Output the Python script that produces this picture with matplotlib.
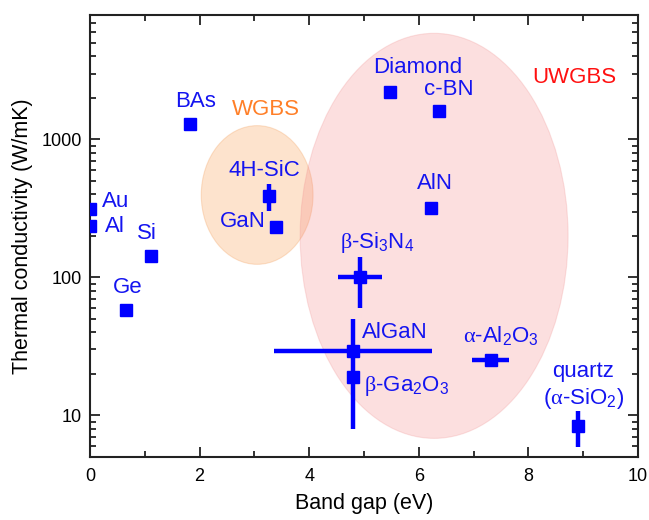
import matplotlib
matplotlib.use("Agg")
import matplotlib.pyplot as plt
from matplotlib.patches import Ellipse

plt.rcParams['font.family'] = ['Liberation Sans', 'DejaVu Sans']
plt.rcParams['mathtext.fontset'] = 'custom'
plt.rcParams['mathtext.rm'] = 'Liberation Sans'
plt.rcParams['mathtext.tt'] = 'Liberation Serif'

# ---- data ----
materials = ['Au', 'Al', 'Si', 'Ge', 'BAs', '4H-SiC', 'GaN', 'Diamond', 'c-BN', 'AlN',
             'b-Si3N4', 'AlGaN', 'b-Ga2O3', 'a-Al2O3', 'quartz']
band_gap = [0.0, 0.0, 1.12, 0.66, 1.82, 3.26, 3.39, 5.47, 6.36, 6.23,
            4.93, 4.80, 4.80, 7.31, 8.90]
kappa = [315, 237, 142, 58, 1300, 390, 230, 2200, 1600, 320,
         100, 29, 19, 25, 8.3]
gap_err = [0, 0, 0, 0, 0, 0, 0, 0, 0, 0,
           0.40, 1.44, 0, 0.33, 0]
kappa_err = [0, 0, 0, 0, 0, 85, 0, 0, 0, 0,
             40, 21, 0, 0, 2.4]

label_texts = ['Au', 'Al', 'Si', 'Ge', 'BAs', '4H-SiC', 'GaN', 'Diamond', 'c-BN', 'AlN',
               r'$\mathtt{β}$-Si$_3$N$_4$', 'AlGaN', r'$\mathtt{β}$-Ga$_2$O$_3$',
               r'$\mathtt{α}$-Al$_2$O$_3$', 'quartz\n' + r'($\mathtt{α}$-SiO$_2$)']
# label positions (data coordinates)
label_x = [0.46, 0.46, 1.04, 0.68, 1.93, 3.19, 2.79, 5.98, 6.55, 6.30,
           5.24, 5.57, 5.77, 7.50, 9.0]
label_y = [355, 234, 208, 84, 1900, 600, 255, 3300, 2320, 480,
           178, 40, 16.2, 37.5, 16.3]

region_names = ['WGBS', 'UWGBS']
region_colors = ['#ff7f27', '#ff1010']

# ---- figure ----
fig = plt.figure(figsize=(6.49, 5.2), dpi=100)
ax = fig.add_axes([0.1387, 0.1217, 0.9830 - 0.1387, 0.9712 - 0.1217])
ax.set_yscale('log')
ax.set_xlim(0, 10)
ax.set_ylim(5, 8000)

# shaded regions (axes coordinates)
ax.add_patch(Ellipse((0.305, 0.5925), 0.204, 0.314, transform=ax.transAxes,
                     facecolor='#f9a55a', alpha=0.3, edgecolor='#f3a060', lw=0.8, zorder=1))
ax.add_patch(Ellipse((0.628, 0.500), 0.489, 0.917, transform=ax.transAxes,
                     facecolor='#f48080', alpha=0.25, edgecolor='#f09090', lw=0.8, zorder=1))

blue = '#0000ff'
for x, y, xe, ye in zip(band_gap, kappa, gap_err, kappa_err):
    ax.errorbar(x, y, xerr=xe if xe else None, yerr=ye if ye else None,
                fmt='s', color=blue, ms=9, elinewidth=3.2, capsize=0,
                zorder=3, clip_on=True)

for t, x, y in zip(label_texts, label_x, label_y):
    ax.text(x, y, t, color='#1414f0', fontsize=16, ha='center', va='center',
            zorder=4, linespacing=1.25)

ax.text(3.21, 1640, region_names[0], color=region_colors[0], fontsize=16,
        ha='center', va='center')
ax.text(8.83, 2800, region_names[1], color=region_colors[1], fontsize=16,
        ha='center', va='center')

ax.set_xticks([0, 2, 4, 6, 8, 10])
ax.set_xticks([1, 3, 5, 7, 9], minor=True)
ax.set_yticks([10, 100, 1000])
ax.set_yticklabels(['10', '100', '1000'])
ax.tick_params(which='both', direction='in', top=True, right=True,
               labelsize=13, color='#222222', width=1.3)
ax.tick_params(which='major', length=7)
ax.tick_params(axis='x', which='major', pad=8)
ax.tick_params(axis='y', which='major', pad=6)
ax.tick_params(which='minor', length=4)
for s in ax.spines.values():
    s.set_linewidth(1.5)
    s.set_color('#222222')

ax.set_xlabel('Band gap (eV)', fontsize=15.5, labelpad=6)
ax.set_ylabel('Thermal conductivity (W/mK)', fontsize=15.5, labelpad=6)

fig.savefig('out.png', dpi=100)
